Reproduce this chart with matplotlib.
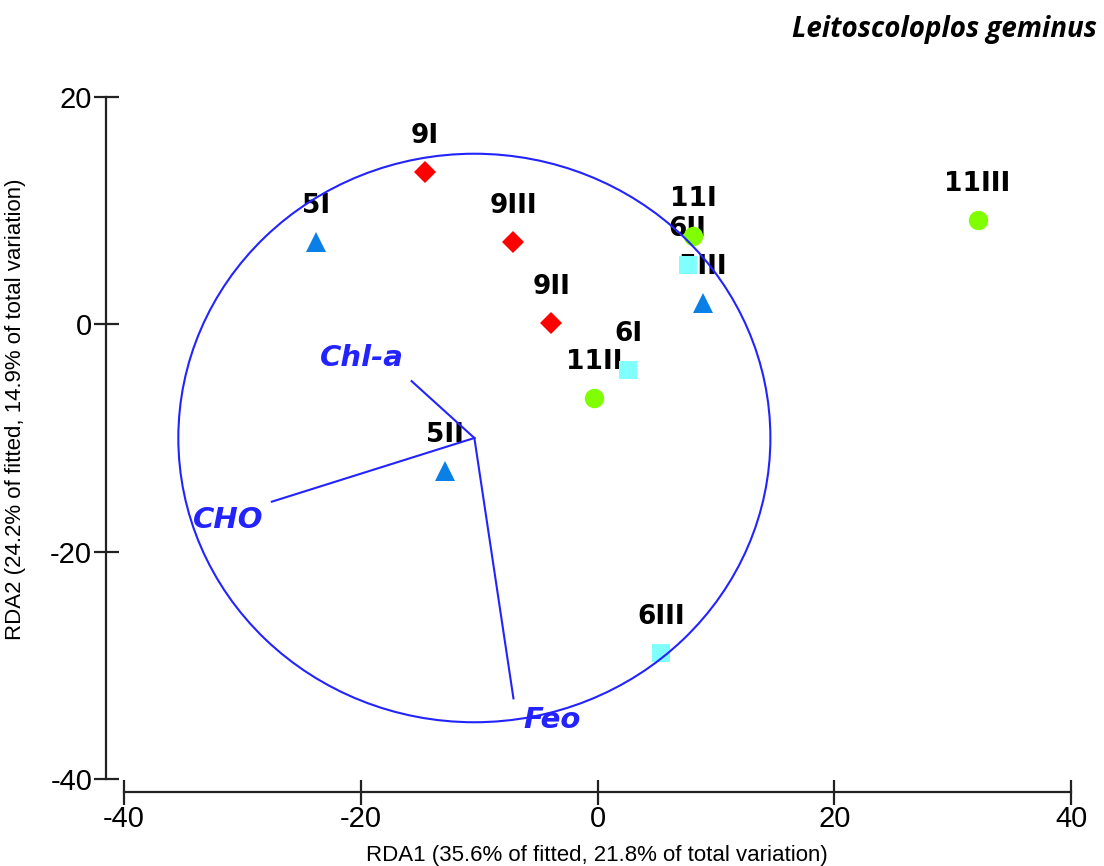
import numpy as np
import matplotlib.pyplot as plt
from matplotlib.patches import Circle

# sample scores (site + replicate)
sites = ["9I", "9III", "9II", "5I", "5II", "5III", "6II", "11I", "6I", "11II", "6III", "11III"]
rda1 = [-14.6, -7.1, -3.9, -23.8, -12.9, 8.9, 7.6, 8.1, 2.6, -0.3, 5.4, 32.1]
rda2 = [13.4, 7.2, 0.1, 7.2, -12.9, 1.9, 5.2, 7.8, -4.0, -6.5, -28.9, 9.2]
station = [9, 9, 9, 5, 5, 5, 6, 11, 6, 11, 6, 11]

# environmental variables (biplot arrows)
env_names = ["Chl-a", "CHO", "Feo"]
env_x = [-15.7, -27.5, -7.1]
env_y = [-5.0, -15.6, -32.9]
env_lab_x = [-19.9, -31.2, -3.8]
env_lab_y = [-3.0, -17.2, -34.8]
origin = (-10.4, -10.0)
radius = 25.0

styles = {
    5: dict(marker="^", color="#0a7fe6", size=15),
    6: dict(marker="s", color="#80ffff", size=13),
    9: dict(marker="D", color="#ff0000", size=11),
    11: dict(marker="o", color="#80ff00", size=14),
}

blue = "#2323ff"
plt.rcParams["font.family"] = ["Liberation Sans", "DejaVu Sans"]
plt.rcParams["axes.unicode_minus"] = False

W, H = 1104, 866
fig = plt.figure(figsize=(W / 100, H / 100), dpi=100)

# axes placed in pixel terms
x0, x1 = -41.5, 41.0
y0, y1 = -41.1, 20.5
left_px, right_px = 106.1, 1083.0
bot_px, top_px = 791.6, 91.2
ax = fig.add_axes([left_px / W, 1 - bot_px / H,
                   (right_px - left_px) / W, (bot_px - top_px) / H])
ax.set_xlim(x0, x1)
ax.set_ylim(y0, y1)

for s, x, y, st in zip(sites, rda1, rda2, station):
    st_ = styles[st]
    ax.plot(x, y, linestyle="none", marker=st_["marker"], color=st_["color"],
            markersize=st_["size"], markeredgewidth=0, zorder=3)
    ax.annotate(s, (x, y), xytext=(0, 26), textcoords="offset points",
                ha="center", va="center", fontsize=19, fontweight="bold",
                family="DejaVu Sans", color="black", zorder=2)

# correlation circle and arrows
ax.add_patch(Circle(origin, radius, fill=False, edgecolor=blue, linewidth=1.5, zorder=5))
for name, ex, ey, lx, ly in zip(env_names, env_x, env_y, env_lab_x, env_lab_y):
    ax.plot([origin[0], ex], [origin[1], ey], color=blue, linewidth=1.5, zorder=5)
    ax.text(lx, ly, name, ha="center", va="center", fontsize=21, family="DejaVu Sans",
            fontweight="bold", fontstyle="italic", color=blue, zorder=5)

for side in ["top", "right"]:
    ax.spines[side].set_visible(False)
ax.spines["left"].set_bounds(-40, 20)
ax.spines["bottom"].set_bounds(-40, 40)
for side in ["left", "bottom"]:
    ax.spines[side].set_linewidth(1.6)
    ax.spines[side].set_color("#222222")

ax.set_xticks([-40, -20, 0, 20, 40])
ax.set_yticks([-40, -20, 0, 20])
ax.tick_params(direction="inout", length=18, width=1.6, color="#222222",
               labelsize=21, pad=1)

ax.set_xlabel("RDA1 (35.6% of fitted, 21.8% of total variation)", fontsize=16)
ax.set_ylabel("RDA2 (24.2% of fitted, 14.9% of total variation)", fontsize=16)
ax.xaxis.set_label_coords(0.5025, -0.076)
ax.yaxis.set_label_coords(-0.082, 0.546)

fig.text(1097 / W, 1 - 30 / H, "Leitoscoloplos geminus", ha="right", va="center",
         fontsize=20, fontweight="bold", fontstyle="italic", family="Open Sans")

fig.savefig("out.png", dpi=100)
